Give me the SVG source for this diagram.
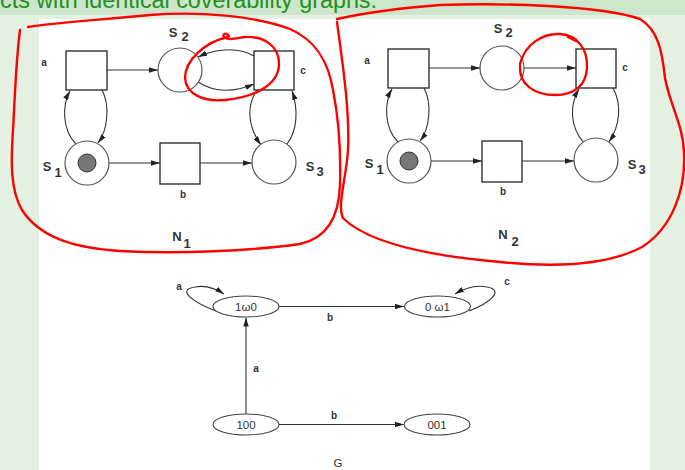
<svg xmlns="http://www.w3.org/2000/svg" width="685" height="470" viewBox="0 0 685 470">
  <defs>
    <marker id="arr" viewBox="0 0 10 6" markerWidth="9" markerHeight="5.4" refX="10" refY="3" orient="auto" markerUnits="userSpaceOnUse">
      <path d="M0,0 L10,3 L0,6 z" fill="#222"/>
    </marker>
  </defs>
  <style>
    .place{fill:#fff;stroke:#555;stroke-width:1.2}
    .trans{fill:#fff;stroke:#222;stroke-width:1.3}
    .token{fill:#777;stroke:#333;stroke-width:1}
    .arc{fill:none;stroke:#333;stroke-width:1.1;marker-end:url(#arr)}
    .state{fill:#fff;stroke:#444;stroke-width:1.1}
    .lbl{font-family:"Liberation Sans Narrow","Liberation Sans",Arial,sans-serif;font-weight:bold;fill:#333;text-anchor:middle}
    .sm{font-size:10px}
    .pl{font-size:13px}
    .st{font-family:"Liberation Sans Narrow","Liberation Sans",Arial,sans-serif;font-size:11.5px;fill:#333;text-anchor:middle}
    .ink{fill:none;stroke:#f00;stroke-width:2.4;stroke-linecap:round;stroke-linejoin:round}
  </style>

  <!-- slide background, title band and white figure panel -->
  <rect width="685" height="470" fill="#e4f0e2"/>
  <rect width="685" height="15" fill="#cde5ca"/>
  <rect x="39" y="19" width="611" height="451" fill="#fff"/>
  <text x="0" y="7.5" font-family="Liberation Sans, Arial, sans-serif" font-size="23" fill="#219121" textLength="377" lengthAdjust="spacingAndGlyphs">cts with identical coverability graphs.</text>

  <!-- net N1 -->
  <g id="net1">
    <g id="n1-connectors">
      <path class="arc" d="M107,70 L158,70"/>
      <path class="arc" d="M109,163 L160,163"/>
      <path class="arc" d="M200,163 L252,163"/>
      <path class="arc" d="M76,144 C62,130 62,105 70,91"/>
      <path class="arc" d="M102,90 C110,105 108,130 98,143"/>
      <path class="arc" d="M254,56 C240,48 220,47 198,57"/>
      <path class="arc" d="M198,82 C215,93 235,92 254,84"/>
      <path class="arc" d="M257,90 C246,106 248,127 261,145"/>
      <path class="arc" d="M287,144 C298,130 298,108 292,91"/>
    </g>
    <g id="n1-a"><rect class="trans" x="66" y="51" width="41" height="39"/><text class="lbl sm" x="44" y="66">a</text></g>
    <g id="n1-s2"><circle class="place" cx="180" cy="70" r="22"/><text class="lbl pl" x="173" y="37">S</text><text class="lbl pl" x="185" y="41">2</text></g>
    <g id="n1-c"><rect class="trans" x="254" y="51" width="40" height="39"/><text class="lbl sm" x="303" y="74">c</text></g>
    <g id="n1-s1"><circle class="place" cx="87" cy="163" r="22"/><circle class="token" cx="87" cy="163" r="9"/><text class="lbl pl" x="47" y="171">S</text><text class="lbl pl" x="58" y="177">1</text></g>
    <g id="n1-b"><rect class="trans" x="160" y="143" width="40" height="41"/><text class="lbl sm" x="183" y="198">b</text></g>
    <g id="n1-s3"><circle class="place" cx="274" cy="162" r="22"/><text class="lbl pl" x="310" y="171">S</text><text class="lbl pl" x="320" y="176">3</text></g>
    <g id="n1-name"><text class="lbl pl" x="177" y="241">N</text><text class="lbl pl" x="187" y="248">1</text></g>
  </g>

  <!-- net N2 -->
  <g id="net2" transform="translate(322,-2)">
    <g id="n2-connectors">
      <path class="arc" d="M107,70 L158,70"/>
      <path class="arc" d="M202,70 L254,70"/>
      <path class="arc" d="M109,163 L160,163"/>
      <path class="arc" d="M200,163 L252,163"/>
      <path class="arc" d="M76,144 C62,130 62,105 70,91"/>
      <path class="arc" d="M102,90 C110,105 108,130 98,143"/>
      <path class="arc" d="M262,145 C247,128 248,106 257,91"/>
      <path class="arc" d="M291,90 C300,106 298,128 287,144"/>
    </g>
    <g id="n2-a"><rect class="trans" x="66" y="51" width="41" height="39"/><text class="lbl sm" x="45" y="66">a</text></g>
    <g id="n2-s2"><circle class="place" cx="180" cy="70" r="22"/><text class="lbl pl" x="176" y="35">S</text><text class="lbl pl" x="187" y="39">2</text></g>
    <g id="n2-c"><rect class="trans" x="254" y="51" width="40" height="39"/><text class="lbl sm" x="303" y="73">c</text></g>
    <g id="n2-s1"><circle class="place" cx="87" cy="163" r="22"/><circle class="token" cx="87" cy="163" r="9"/><text class="lbl pl" x="47" y="170">S</text><text class="lbl pl" x="58" y="176">1</text></g>
    <g id="n2-b"><rect class="trans" x="160" y="143" width="40" height="41"/><text class="lbl sm" x="181" y="197">b</text></g>
    <g id="n2-s3"><circle class="place" cx="274" cy="162" r="22"/><text class="lbl pl" x="310" y="171">S</text><text class="lbl pl" x="320" y="176">3</text></g>
    <g id="n2-name"><text class="lbl pl" x="181" y="241">N</text><text class="lbl pl" x="193" y="248">2</text></g>
  </g>

  <!-- coverability graph G -->
  <g id="graph">
    <g id="g-connectors">
      <path class="arc" d="M279,306.5 L404,306.5"/>
      <path class="arc" d="M246,414 L246,317.5"/>
      <path class="arc" d="M279,424.5 L404,424.5"/>
      <path class="arc" d="M216,311 C195,303 175,290 195,287 C205,285 215,288 224,294"/>
      <path class="arc" d="M469,311 C490,303 505,290 487,287 C477,285 465,288 455,294"/>
      <text class="lbl sm" x="330" y="321">b</text>
      <text class="lbl sm" x="256" y="372">a</text>
      <text class="lbl sm" x="334" y="419">b</text>
      <text class="lbl sm" x="179" y="290">a</text>
      <text class="lbl sm" x="507" y="285">c</text>
    </g>
    <g id="g-1w0"><ellipse class="state" cx="246" cy="306.5" rx="33" ry="10.5"/><text class="st" x="246" y="311">1ω0</text></g>
    <g id="g-0w1"><ellipse class="state" cx="437.5" cy="306.5" rx="33" ry="10.5"/><text class="st" x="437.5" y="311">0 ω1</text></g>
    <g id="g-100"><ellipse class="state" cx="246" cy="424.5" rx="33" ry="10.5"/><text class="st" x="246" y="429">100</text></g>
    <g id="g-001"><ellipse class="state" cx="437" cy="424.5" rx="33" ry="10.5"/><text class="st" x="437" y="429">001</text></g>
    <text class="st" x="338" y="467" font-size="12">G</text>
  </g>

  <!-- hand-drawn red ink -->
  <g id="ink">
    <path class="ink" d="M28,27 C60,22 100,20 150,15 C200,11 255,16 290,29 C315,40 328,60 333,90 C338,115 341,150 340,185 C339,215 328,238 300,244 C250,251 180,254 120,251 C75,248 40,238 22,210 C10,190 11,160 13,130 C15,95 16,60 20,30"/>
    <path class="ink" d="M337,22 C342,60 350,110 348,150 C346,180 337,205 343,218 C365,240 420,255 500,262 C560,268 610,264 642,247 C672,228 686,190 684,152 C683,125 670,105 665,78 C662,50 658,30 640,19 C600,5 500,3 440,5 C400,8 360,14 337,19"/>
    <path class="ink" d="M228,37 C205,42 185,60 185,78 C186,95 205,102 225,100 C255,97 278,85 279,65 C280,45 262,36 245,37 C237,38 228,41 224,37 C222,34 226,32 229,36"/>
    <path class="ink" d="M520,64 C525,44 543,33 560,34 C578,35 588,50 587,68 C586,85 575,95 555,95 C535,95 519,85 520,66 M568,37 L576,41"/>
  </g>
</svg>
